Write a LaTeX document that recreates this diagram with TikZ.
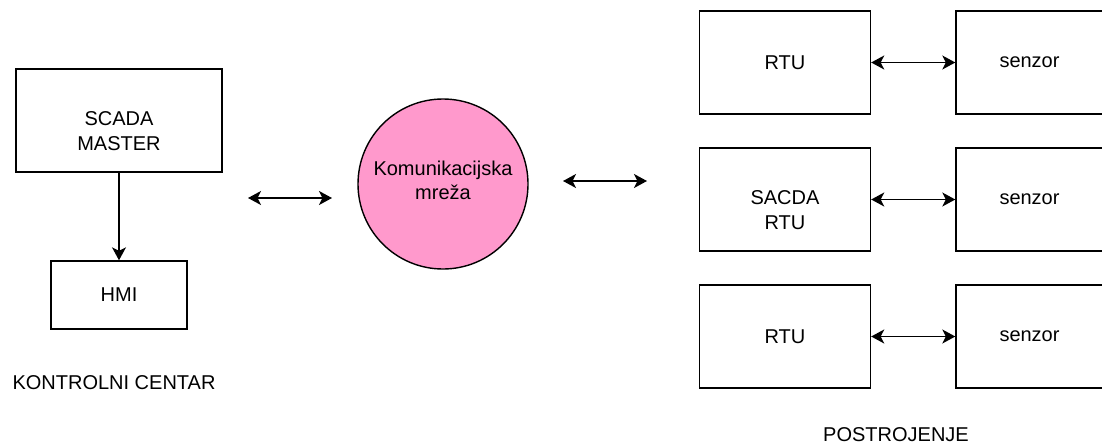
\documentclass[tikz,border=0pt]{standalone}
\usepackage{fontspec}
\setmainfont{Liberation Sans}
\usetikzlibrary{arrows.meta}
\definecolor{pinkfill}{HTML}{FF99CC}
\newcommand{\downpush}{\rule{0pt}{35pt}}
\begin{document}
\begin{tikzpicture}[x=1pt,y=-1pt,
  font=\fontsize{20}{25.5}\selectfont,
  box/.style={draw=black, line width=1.4pt, rectangle, inner sep=0pt, align=center},
  lbl/.style={inner sep=0pt, align=center},
  conn/.style={line width=1.5pt, {Stealth[length=13pt,width=14pt,inset=3.5pt]}-{Stealth[length=13pt,width=14pt,inset=3.5pt]}},
  oneway/.style={line width=1.5pt, -{Stealth[length=13pt,width=14pt,inset=3.5pt]}}]
\useasboundingbox (0,0) rectangle (1102,445);
% left side
\node[box, minimum width=206pt, minimum height=103pt] (master) at (119,120.5) {\downpush SCADA\\MASTER};
\node[box, minimum width=136pt, minimum height=68pt] (hmi) at (119,295) {HMI};
\node[lbl] (kc) at (114,382.5) {KONTROLNI CENTAR};
\draw[oneway] (master.south) -- (hmi.north);
% network
\node[circle, draw=black, line width=1.4pt, fill=pinkfill, minimum size=170pt, inner sep=0pt, align=center] (net) at (443,184) {\raisebox{8pt}{\shortstack{Komunikacijska\\[2pt]mreža}}};
\coordinate (la) at (248,198);
\coordinate (lb) at (332,198);
\coordinate (ra) at (563,181);
\coordinate (rb) at (647,181);
\draw[conn] (la) -- (lb);
\draw[conn] (ra) -- (rb);
% right side
\node[box, minimum width=171pt, minimum height=103pt] (rtu1) at (785,62.5) {RTU};
\node[box, minimum width=171pt, minimum height=103pt] (rtu2) at (785,199.5) {\downpush SACDA\\RTU};
\node[box, minimum width=171pt, minimum height=103pt] (rtu3) at (785,336.5) {RTU};
\node[box, minimum width=171pt, minimum height=103pt] (sen1) at (1041.5,62.5) {\hspace*{-24pt}senzor};
\node[box, minimum width=171pt, minimum height=103pt] (sen2) at (1041.5,199.5) {\hspace*{-24pt}senzor};
\node[box, minimum width=171pt, minimum height=103pt] (sen3) at (1041.5,336.5) {\hspace*{-24pt}senzor};
\draw[conn] (rtu1.east) -- (sen1.west);
\draw[conn] (rtu2.east) -- (sen2.west);
\draw[conn] (rtu3.east) -- (sen3.west);
\node[lbl] (post) at (896,434.5) {POSTROJENJE};
\end{tikzpicture}
\end{document}
